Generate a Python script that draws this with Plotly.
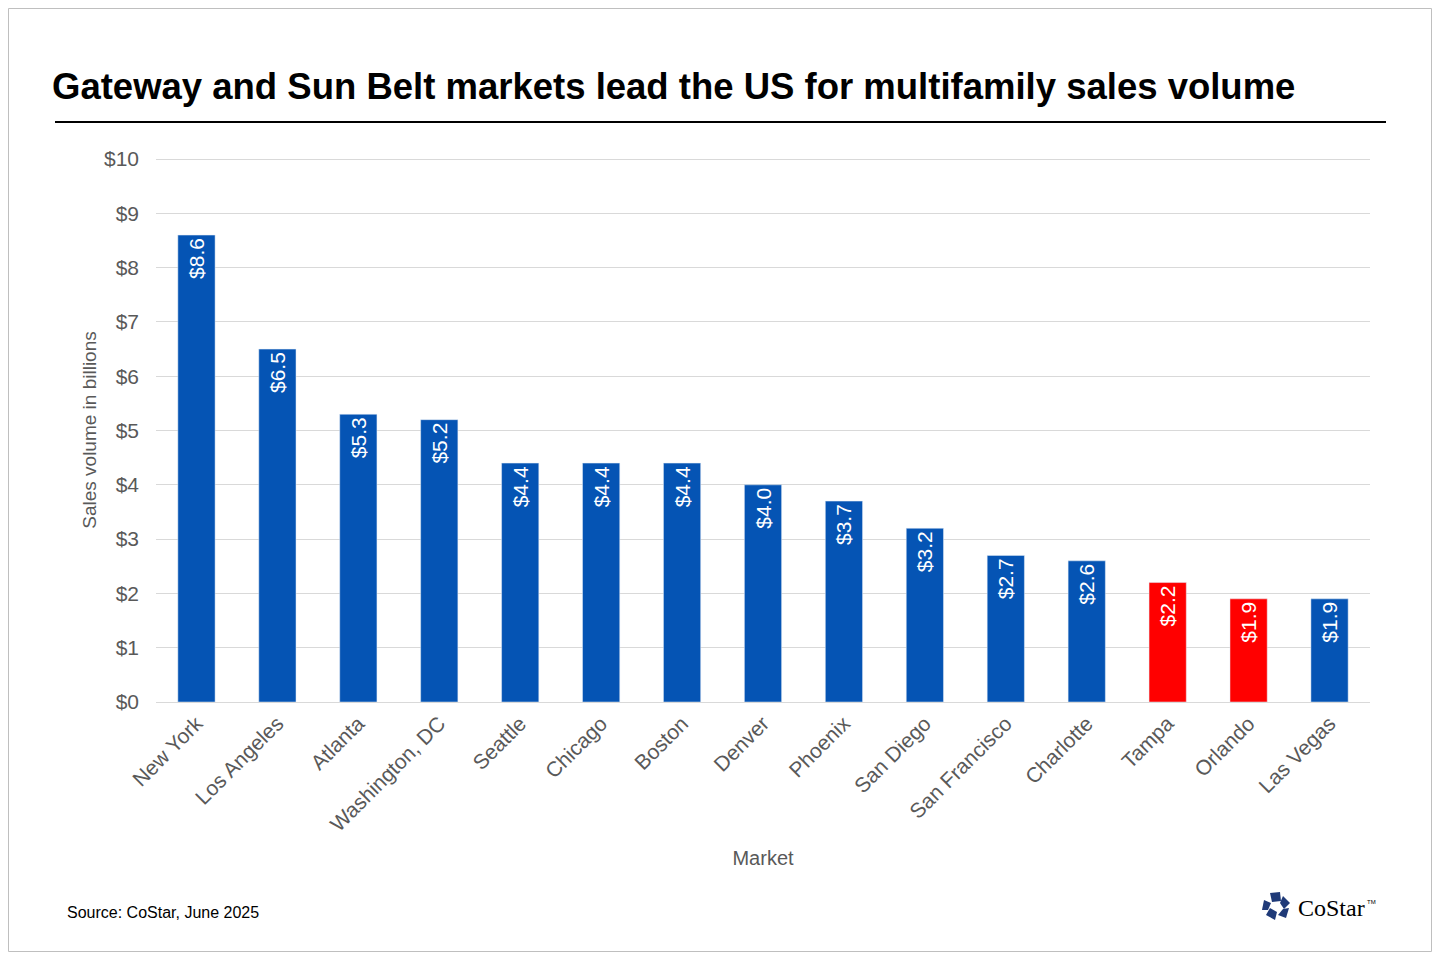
import plotly.graph_objects as go

markets = ['New York', 'Los Angeles', 'Atlanta', 'Washington, DC', 'Seattle', 'Chicago', 'Boston',
           'Denver', 'Phoenix', 'San Diego', 'San Francisco', 'Charlotte', 'Tampa', 'Orlando', 'Las Vegas']
volume = [8.6, 6.5, 5.3, 5.2, 4.4, 4.4, 4.4, 4.0, 3.7, 3.2, 2.7, 2.6, 2.2, 1.9, 1.9]
highlight = ['Tampa', 'Orlando']
y_ticks = list(range(0, 11))

BLUE = '#0554B4'
RED = '#FF0000'
GREY = '#595959'

# the page puts the figure 8px in from the window corner, so work in window pixels
OFF = 8
W, H = 1440 - 2 * OFF, 960 - 2 * OFF
L, R, T, B = 156 - OFF, 70 - OFF, 158 - OFF, 258 - OFF
PW, PH = W - L - R, H - T - B


def px(x):
	return (x - OFF - L) / PW


def py(y):
	return (H - B - (y - OFF)) / PH


colors = [RED if m in highlight else BLUE for m in markets]

fig = go.Figure()
fig.add_trace(go.Bar(
	x=markets, y=volume, marker_color=colors, width=0.46,
	text=[f'${v:.1f}' for v in volume], textposition='inside', insidetextanchor='end',
	textangle=-90, textfont=dict(color='white', size=21, family='Liberation Sans, Arial'),
	hoverinfo='x+y'
))

fig.update_layout(
	width=W, height=H,
	margin=dict(l=L, r=R, t=T, b=B),
	paper_bgcolor='white', plot_bgcolor='white',
	font=dict(family='Liberation Sans, Arial', color=GREY),
	showlegend=False,
	xaxis=dict(
		tickangle=-45, tickfont=dict(size=21, color=GREY), showgrid=False,
		title=dict(text='Market', font=dict(size=20, color=GREY), standoff=16),
		showline=True, linecolor='#D9D9D9', ticks='',
	),
	yaxis=dict(
		range=[0, 10.02], tickvals=y_ticks, ticktext=[f'${v}' for v in y_ticks],
		tickfont=dict(size=21, color=GREY), gridcolor='#D9D9D9', zeroline=False,
		title=dict(text='Sales volume in billions', font=dict(size=19, color=GREY), standoff=2),
		ticks='', ticklabelstandoff=16,
	),
)

# title and rule
fig.add_annotation(text='<b>Gateway and Sun Belt markets lead the US for multifamily sales volume</b>',
                   xref='paper', yref='paper', x=px(50), y=py(86), xanchor='left', yanchor='middle',
                   showarrow=False, font=dict(size=36.5, color='black'))
fig.add_shape(type='line', xref='paper', yref='paper', x0=px(55), x1=px(1386), y0=py(122), y1=py(122),
              line=dict(color='black', width=2))

# source
fig.add_annotation(text='Source: CoStar, June 2025', xref='paper', yref='paper', x=px(65), y=py(912),
                   xanchor='left', yanchor='middle', showarrow=False, font=dict(size=16, color='black'))

# logo
fig.add_annotation(text='CoStar', xref='paper', yref='paper', x=px(1296), y=py(908),
                   xanchor='left', yanchor='middle', showarrow=False,
                   font=dict(size=24, color='black', family='Liberation Serif, Times New Roman'))
fig.add_annotation(text='TM', xref='paper', yref='paper', x=px(1365), y=py(902),
                   xanchor='left', yanchor='middle', showarrow=False,
                   font=dict(size=6, color='black', family='Liberation Sans, Arial'))
logo_pieces = [
	[(1270, 893), (1280, 892), (1281, 901), (1272, 902)],
	[(1283, 896), (1290, 903), (1284, 909), (1280, 903)],
	[(1289, 908), (1286, 918), (1278, 915), (1283, 909)],
	[(1275, 920), (1266, 915), (1270, 908), (1277, 912)],
	[(1262, 910), (1264, 900), (1271, 903), (1268, 910)],
]
for pts in logo_pieces:
	path = 'M' + ' L'.join(f'{px(x):.5f},{py(y):.5f}' for x, y in pts) + ' Z'
	fig.add_shape(type='path', path=path, xref='paper', yref='paper',
	              fillcolor='#1F3A78', line=dict(width=0))

# frame
fig.add_shape(type='rect', xref='paper', yref='paper', x0=px(OFF + 0.5), x1=px(1440 - OFF - 0.5),
              y0=py(OFF + 0.5), y1=py(960 - OFF - 0.5), line=dict(color='#BFBFBF', width=1))

fig.write_html('out.html')
